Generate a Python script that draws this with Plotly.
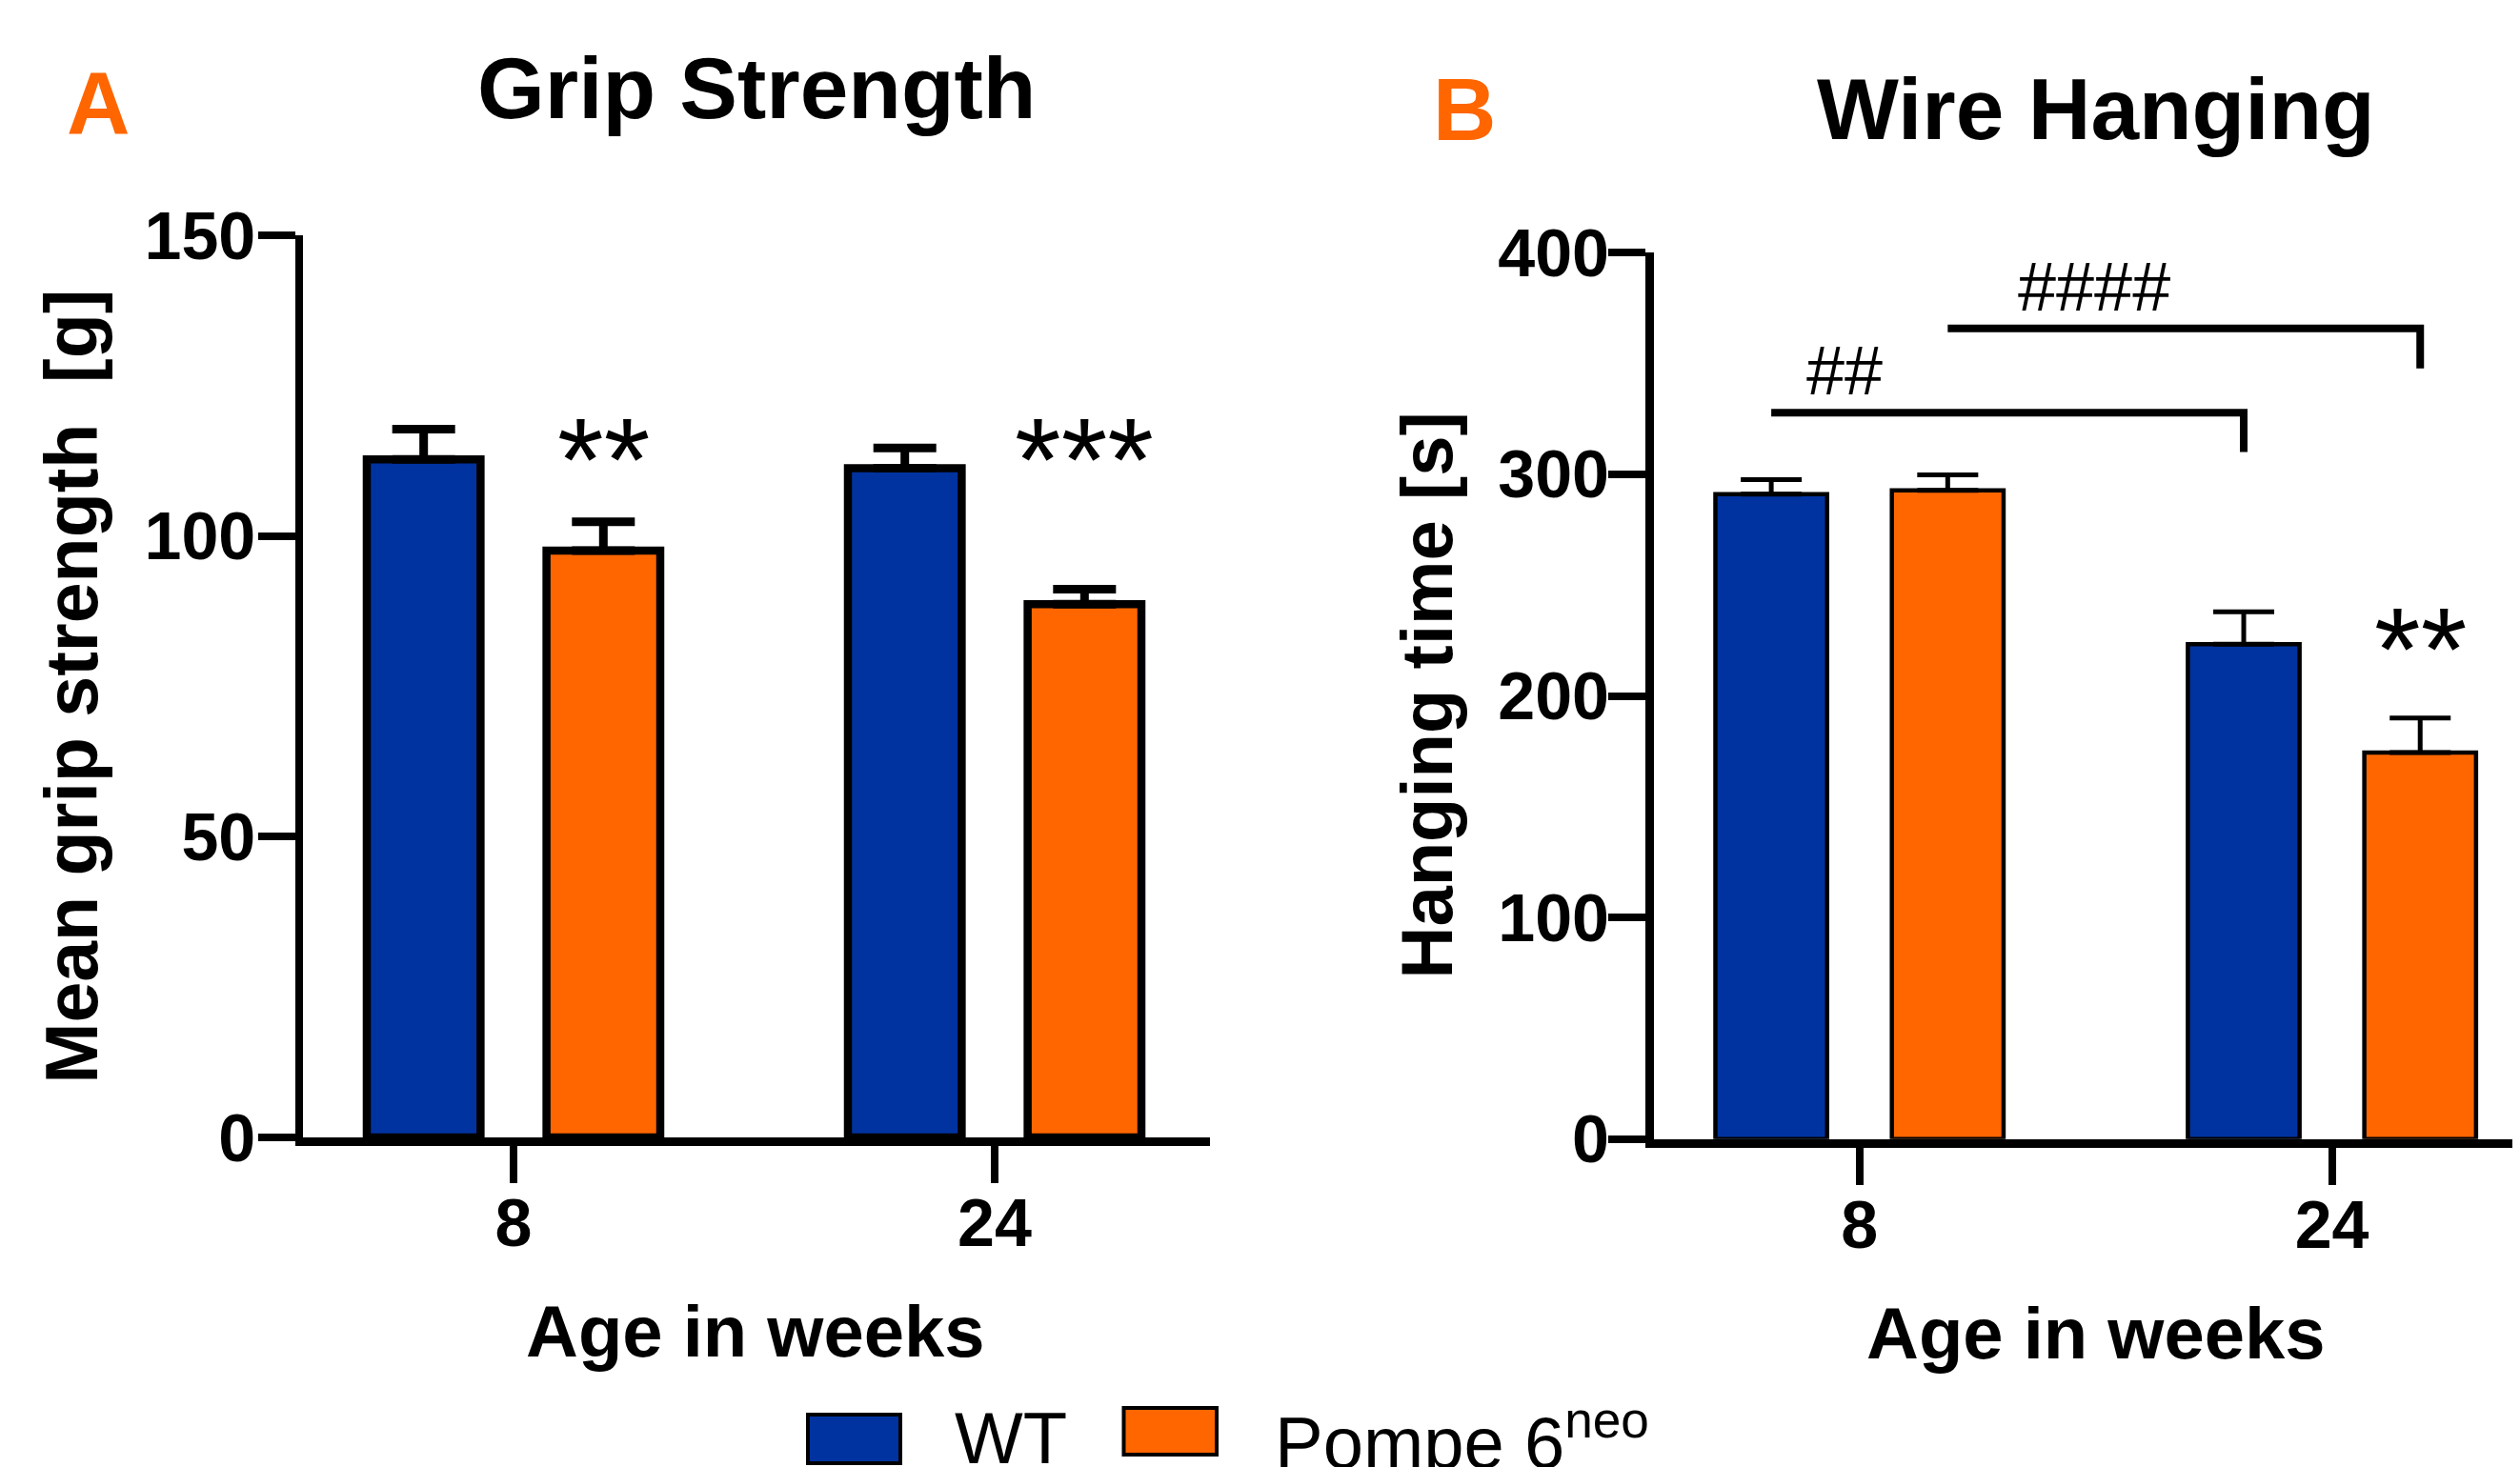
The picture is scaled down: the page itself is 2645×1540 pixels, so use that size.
import plotly.graph_objects as go

# ---------------- data ----------------
ages = ["8", "24"]
age_pos = [0, 1]
group_names = ["WT", "Pompe 6<sup>neo</sup>"]

grip_wt = [112.8, 111.3]
grip_wt_err = [5.0, 3.4]
grip_pompe = [97.6, 88.7]
grip_pompe_err = [4.8, 2.5]
grip_sig = ["**", "***"]          # over Pompe bars
grip_sig_y = [116.3, 116.3]

hang_wt = [291.0, 223.3]
hang_wt_err = [6.6, 14.6]
hang_pompe = [292.8, 174.4]
hang_pompe_err = [6.9, 15.6]
hang_sig = ["", "**"]
hang_sig_y = [230.0, 230.0]

# between-age comparisons in panel B
hash_side = [-1, 1]               # -1 = WT, +1 = Pompe
hash_level = [327.8, 365.8]
hash_drop = [310.1, 347.8]
hash_label = ["##", "####"]
hash_label_x = [-0.032, 0.497]
hash_label_y = [346.8, 384.6]

grip_yticks = [0, 50, 100, 150]
hang_yticks = [0, 100, 200, 300, 400]

# ---------------- style ----------------
SCREEN_W, SCREEN_H = 2645, 1540
BODY = 8                              # default page margin around the plot div
W, H = SCREEN_W - BODY, SCREEN_H - BODY
BLUE = "#0033A0"
ORANGE = "#FF6600"
FONT = "Liberation Sans, Arial, Helvetica, sans-serif"
BARGAP = 0.253
BARGROUPGAP = 0.367
OFF = (1 - BARGAP) / 4  # centre offset of each bar in a group


def px(xs):
    return (xs - BODY) / W


def py(ys):
    return 1 - (ys - BODY) / H


fig = go.Figure()


def add_bars(vals, errs, color, name, xa, ya, lw, ethick, ewidth):
    fig.add_trace(go.Bar(
        x=age_pos, y=vals, name=name, xaxis=xa, yaxis=ya,
        marker=dict(color=color, line=dict(color="black", width=lw)),
        error_y=dict(type="data", array=errs, arrayminus=[0] * len(errs),
                     symmetric=False, color="black", thickness=ethick, width=ewidth),
        showlegend=False,
    ))


add_bars(grip_wt, grip_wt_err, BLUE, group_names[0], "x", "y", 8.5, 9, 33)
add_bars(grip_pompe, grip_pompe_err, ORANGE, group_names[1], "x", "y", 8.5, 9, 33)
add_bars(hang_wt, hang_wt_err, BLUE, group_names[0], "x2", "y2", 4.5, 5, 32)
add_bars(hang_pompe, hang_pompe_err, ORANGE, group_names[1], "x2", "y2", 4.5, 5, 32)

axis_common = dict(
    showline=True, linecolor="black", ticks="outside", ticklen=39,
    tickwidth=8, tickcolor="black", showgrid=False, zeroline=False,
    automargin=False,
    tickfont=dict(family=FONT, size=70, color="black", weight="bold"),
)

fig.update_layout(
    template="none",
    width=W, height=H,
    margin=dict(l=0, r=0, t=0, b=0, pad=0, autoexpand=False),
    paper_bgcolor="white", plot_bgcolor="white",
    barmode="group", bargap=BARGAP, bargroupgap=BARGROUPGAP,
    showlegend=False,
    xaxis=dict(axis_common, domain=[px(318), px(1270)], range=[-0.4376, 1.4475],
               tickvals=age_pos, ticktext=ages, linewidth=9, anchor="y",
               ticklabelstandoff=-18),
    yaxis=dict(axis_common, domain=[py(1194), py(247.4)], range=[0, 150],
               tickvals=grip_yticks, linewidth=7.5, anchor="x",
               ticklabelstandoff=-11),
    xaxis2=dict(axis_common, domain=[px(1736), 1.0], range=[-0.435, 1.398],
                tickvals=age_pos, ticktext=ages, linewidth=9, anchor="y2",
                ticklabelstandoff=-18),
    yaxis2=dict(axis_common, domain=[py(1195.7), py(265.3)], range=[0, 400],
                tickvals=hang_yticks, linewidth=9, anchor="x2",
                ticklabelstandoff=-15),
)

ann = []
shapes = []


def txt(text, x, y, size, color="black", bold=True, xref="paper", yref="paper",
        xanchor="center", yanchor="middle", angle=0, yshift=0):
    ann.append(dict(text=text, x=x, y=y, xref=xref, yref=yref, showarrow=False,
                    xanchor=xanchor, yanchor=yanchor, textangle=angle, yshift=yshift,
                    font=dict(family=FONT, size=size, color=color,
                              weight="bold" if bold else "normal")))


# panel letters and titles
txt("A", px(103), py(108), 92, ORANGE)
txt("B", px(1537), py(115.3), 92, ORANGE)
txt("Grip Strength", px(794), py(92), 91)
txt("Wire Hanging", px(2200), py(114.8), 91)

# axis titles
txt("Age in weeks", px(793), py(1397.5), 76)
txt("Age in weeks", px(2200), py(1399), 76)
txt("Mean grip strength&nbsp; [g]", px(75), py(720.7), 77, angle=-90)
txt("Hanging time [s]", px(1497), py(730.5), 76, angle=-90)

# significance stars over Pompe bars
for i, s in enumerate(grip_sig):
    if s:
        txt(s, age_pos[i] + OFF, grip_sig_y[i], 125, bold=False, xref="x", yref="y", yshift=-22)
for i, s in enumerate(hang_sig):
    if s:
        txt(s, age_pos[i] + OFF, hang_sig_y[i], 125, bold=False, xref="x2", yref="y2", yshift=-21)

# between-age brackets (panel B)
for side, lev, drop, lab, lx, ly in zip(hash_side, hash_level, hash_drop,
                                         hash_label, hash_label_x, hash_label_y):
    x0 = age_pos[0] + side * OFF
    x1 = age_pos[1] + side * OFF
    shapes.append(dict(type="path", xref="x2", yref="y2",
                       path=f"M {x0},{lev} L {x1},{lev} L {x1},{drop}",
                       line=dict(color="black", width=8)))
    txt(lab, lx, ly, 72, bold=False, xref="x2", yref="y2")

# legend
shapes.append(dict(type="rect", xref="paper", yref="paper",
                   x0=px(848), x1=px(945), y0=py(1536), y1=py(1485),
                   fillcolor=BLUE, line=dict(color="black", width=4)))
shapes.append(dict(type="rect", xref="paper", yref="paper",
                   x0=px(1179.5), x1=px(1277), y0=py(1527), y1=py(1478),
                   fillcolor=ORANGE, line=dict(color="black", width=4)))
txt(group_names[0], px(1000), py(1509), 76, bold=False, xanchor="left")
txt(group_names[1], px(1336), py(1509), 76, bold=False, xanchor="left")

fig.update_layout(annotations=ann, shapes=shapes)
fig.write_html("out.html")
